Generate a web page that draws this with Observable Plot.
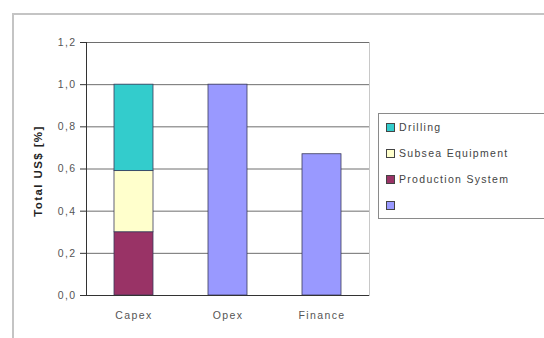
<!DOCTYPE html>
<html>
<head>
<meta charset="utf-8">
<script src="https://cdn.jsdelivr.net/npm/d3@7"></script>
<script src="https://cdn.jsdelivr.net/npm/@observablehq/plot@0.6"></script>
<style>
  html, body { margin: 0; padding: 0; background: #fff; }
  #wrap { position: relative; width: 544px; height: 338px; overflow: hidden; font-family: "Liberation Sans", Arial, sans-serif; }
  #frame { position: absolute; left: 12px; top: 13px; width: 600px; height: 400px; border: 2px solid #c4c4c4; box-sizing: border-box; }
  #chart { position: absolute; left: 0; top: 0; }
  #chart svg text { letter-spacing: 1.4px; }
  #legend { position: absolute; left: 378px; top: 113px; width: 200px; height: 106px; border: 1px solid #8a8a8a; box-sizing: border-box; background: #fff; }
  .item { position: absolute; left: 7px; font-size: 10.5px; letter-spacing: 1.3px; color: #444; height: 12px; line-height: 12px; white-space: nowrap; }
  .sw { display: inline-block; width: 7px; height: 7px; border: 1px solid #444; vertical-align: -1px; margin-right: 4px; }
</style>
</head>
<body>
<div id="wrap">
  <div id="frame"></div>
  <div id="chart"></div>
  <div id="legend"></div>
</div>
<script>
const categories = ["Capex", "Opex", "Finance"];
const seriesNames = ["Production System", "Subsea Equipment", "Drilling", ""];
const seriesColors = ["#993366", "#ffffcc", "#33cccc", "#9999ff"];
const productionSystem = [0.30, 0, 0];
const subseaEquipment = [0.29, 0, 0];
const drilling = [0.41, 0, 0];
const other = [0, 1.0, 0.67];
const yTicks = [0, 0.2, 0.4, 0.6, 0.8, 1.0, 1.2];
const yTickLabels = ["0,0", "0,2", "0,4", "0,6", "0,8", "1,0", "1,2"];
const yLabel = "Total US$ [%]";

const seriesValues = [productionSystem, subseaEquipment, drilling, other];
const rows = [];
categories.forEach((c, i) => {
  seriesNames.forEach((s, j) => {
    if (seriesValues[j][i] > 0) rows.push({category: c, series: s, value: seriesValues[j][i]});
  });
});

const chart = Plot.plot({
  width: 544,
  height: 338,
  marginLeft: 86,
  marginRight: 175,
  marginTop: 42,
  marginBottom: 43,
  style: {fontFamily: "'Liberation Sans', Arial, sans-serif", fontSize: "10.5px", color: "#444", background: "transparent"},
  x: {domain: categories, paddingInner: 0.58, paddingOuter: 0.29, label: null},
  y: {domain: [0, 1.2], label: null},
  color: {domain: seriesNames, range: seriesColors},
  marks: [
    Plot.frame({stroke: "#c8c8c8"}),
    Plot.gridY(yTicks, {stroke: "#6e6e6e", strokeOpacity: 1, strokeWidth: 1}),
    Plot.barY(rows, Plot.stackY({x: "category", y: "value", fill: "series", stroke: "#3a3a5a", strokeWidth: 0.8, order: seriesNames})),
    Plot.axisY(yTicks, {tickFormat: (d) => yTickLabels[yTicks.indexOf(d)], tickSize: 6, tickPadding: 4, fill: "#555", stroke: "#333", label: null}),
    Plot.frame({anchor: "left", stroke: "#333"}),
    Plot.ruleY([0], {stroke: "#333"}),
    Plot.axisX({tickSize: 0, tickPadding: 16, fill: "#555", label: null}),
    Plot.text([yLabel], {frameAnchor: "left", textAnchor: "middle", dx: -48, dy: 2, rotate: -90, fontWeight: "bold", fontSize: 11.5, fill: "#222"})
  ]
});
document.getElementById("chart").appendChild(chart);

const legend = document.getElementById("legend");
const legendOrder = [2, 1, 0, 3];
legendOrder.forEach((j, k) => {
  const it = document.createElement("div");
  it.className = "item";
  it.style.top = (7 + k * 26) + "px";
  const sw = document.createElement("span");
  sw.className = "sw";
  sw.style.background = seriesColors[j];
  it.appendChild(sw);
  it.appendChild(document.createTextNode(seriesNames[j]));
  legend.appendChild(it);
});
</script>
</body>
</html>
